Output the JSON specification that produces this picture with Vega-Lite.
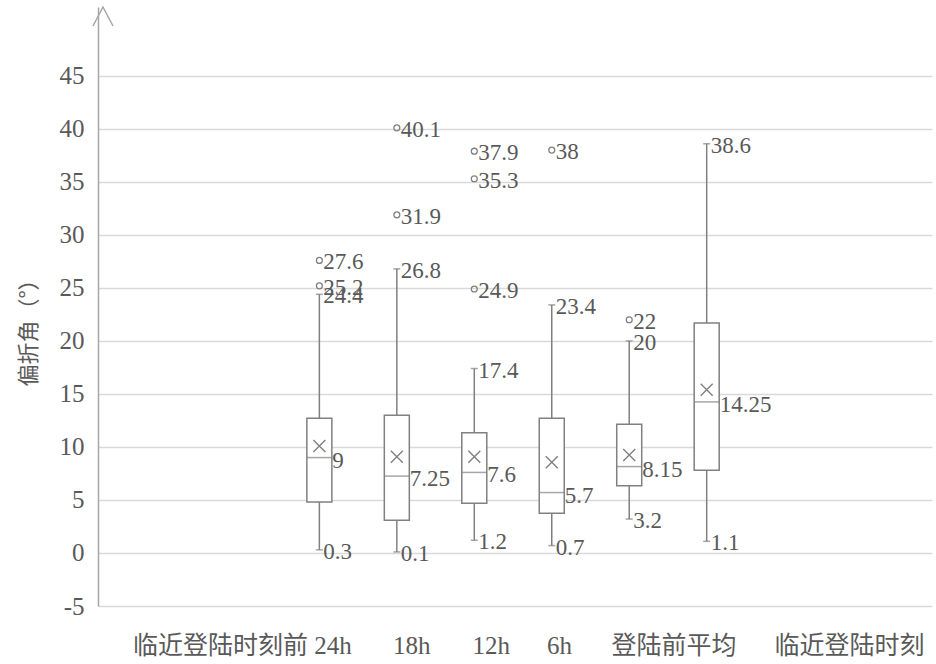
{
  "$schema": "https://vega.github.io/schema/vega-lite/v6.json",
  "width": 834,
  "height": 599,
  "autosize": "none",
  "padding": {"left": 98, "top": 7, "right": 4, "bottom": 58},
  "background": "white",
  "config": {"view": {"stroke": null}, "font": "Liberation Serif"},
  "datasets": {
    "stats": [
      {"pos": 1, "cat": "临近登陆时刻前 24h", "min": 0.3, "q1": 4.8, "median": 9, "mean": 10.1, "q3": 12.7, "max": 24.4},
      {"pos": 2, "cat": "18h", "min": 0.1, "q1": 3.1, "median": 7.25, "mean": 9.07, "q3": 13.0, "max": 26.8},
      {"pos": 3, "cat": "12h", "min": 1.2, "q1": 4.7, "median": 7.6, "mean": 9.07, "q3": 11.35, "max": 17.4},
      {"pos": 4, "cat": "6h", "min": 0.7, "q1": 3.75, "median": 5.7, "mean": 8.55, "q3": 12.7, "max": 23.4},
      {"pos": 5, "cat": "登陆前平均", "min": 3.2, "q1": 6.35, "median": 8.15, "mean": 9.25, "q3": 12.15, "max": 20},
      {"pos": 6, "cat": "临近登陆时刻", "min": 1.1, "q1": 7.8, "median": 14.25, "mean": 15.4, "q3": 21.7, "max": 38.6}
    ],
    "outliers": [
      {"pos": 1, "value": 27.6},
      {"pos": 1, "value": 25.2},
      {"pos": 2, "value": 40.1},
      {"pos": 2, "value": 31.9},
      {"pos": 3, "value": 37.9},
      {"pos": 3, "value": 35.3},
      {"pos": 3, "value": 24.9},
      {"pos": 4, "value": 38},
      {"pos": 5, "value": 22}
    ]
  },
  "layer": [
    {
      "data": {"name": "stats"},
      "mark": {"type": "rule", "stroke": "#808080", "strokeWidth": 1.5},
      "encoding": {
        "x": {
          "field": "pos", "type": "quantitative",
          "scale": {"domain": [-1.793, 8.844], "nice": false, "zero": false},
          "axis": {
            "values": [0, 2.186, 3.213, 4.093, 5.573, 7.837],
            "labelExpr": "datum.value < 1 ? '临近登陆时刻前 24h' : datum.value < 2.7 ? '18h' : datum.value < 3.6 ? '12h' : datum.value < 4.8 ? '6h' : datum.value < 6.5 ? '登陆前平均' : '临近登陆时刻'",
            "grid": false, "ticks": false, "domain": false,
            "labelFont": "Liberation Serif, Noto Sans CJK SC", "labelFontSize": 25,
            "labelColor": "#595959", "labelPadding": 27, "labelAngle": 0, "labelLimit": 0,
            "labelOverlap": false, "labelFlush": false, "labelBound": false, "title": null
          }
        },
        "y": {
          "field": "min", "type": "quantitative", "title": "偏折角（°）",
          "scale": {"domain": [-5, 51.5], "nice": false, "zero": false},
          "axis": {
            "values": [-5, 0, 5, 10, 15, 20, 25, 30, 35, 40, 45],
            "labelExpr": "datum.value < 0 ? '-' + abs(datum.value) : '' + datum.value",
            "grid": true, "gridColor": "#d9d9d9", "gridWidth": 1.3,
            "ticks": false, "domainColor": "#a6a6a6", "domainWidth": 1.5,
            "labelFont": "Liberation Serif", "labelFontSize": 25, "labelColor": "#595959",
            "labelPadding": 14,
            "titleFont": "Noto Sans CJK SC", "titleFontSize": 22, "titleFontWeight": "normal",
            "titleColor": "#595959", "titleX": -70, "titleY": 320, "titleAngle": 270,
            "titleAlign": "center", "titleBaseline": "middle"
          }
        },
        "y2": {"field": "max"}
      }
    },
    {
      "data": {"name": "stats"},
      "mark": {"type": "tick", "orient": "horizontal", "size": 7, "thickness": 1.5, "color": "#808080"},
      "encoding": {
        "x": {"field": "pos", "type": "quantitative", "scale": {"domain": [-1.793, 8.844], "nice": false, "zero": false}},
        "y": {"field": "min", "type": "quantitative", "title": "偏折角（°）", "scale": {"domain": [-5, 51.5], "nice": false, "zero": false}}
      }
    },
    {
      "data": {"name": "stats"},
      "mark": {"type": "tick", "orient": "horizontal", "size": 7, "thickness": 1.5, "color": "#808080"},
      "encoding": {
        "x": {"field": "pos", "type": "quantitative", "scale": {"domain": [-1.793, 8.844], "nice": false, "zero": false}},
        "y": {"field": "max", "type": "quantitative", "title": "偏折角（°）", "scale": {"domain": [-5, 51.5], "nice": false, "zero": false}}
      }
    },
    {
      "data": {"name": "stats"},
      "mark": {"type": "bar", "orient": "vertical", "size": 25, "fill": "white", "stroke": "#808080", "strokeWidth": 1.5},
      "encoding": {
        "x": {"field": "pos", "type": "quantitative", "scale": {"domain": [-1.793, 8.844], "nice": false, "zero": false}},
        "y": {"field": "q1", "type": "quantitative", "title": "偏折角（°）", "scale": {"domain": [-5, 51.5], "nice": false, "zero": false}},
        "y2": {"field": "q3"}
      }
    },
    {
      "data": {"name": "stats"},
      "mark": {"type": "tick", "orient": "horizontal", "size": 25, "thickness": 1.5, "color": "#808080"},
      "encoding": {
        "x": {"field": "pos", "type": "quantitative", "scale": {"domain": [-1.793, 8.844], "nice": false, "zero": false}},
        "y": {"field": "median", "type": "quantitative", "title": "偏折角（°）", "scale": {"domain": [-5, 51.5], "nice": false, "zero": false}}
      }
    },
    {
      "data": {"name": "stats"},
      "mark": {"type": "point", "shape": "M-1,-1L1,1M-1,1L1,-1", "filled": false, "size": 144, "stroke": "#808080", "strokeWidth": 1.4, "opacity": 1},
      "encoding": {
        "x": {"field": "pos", "type": "quantitative", "scale": {"domain": [-1.793, 8.844], "nice": false, "zero": false}},
        "y": {"field": "mean", "type": "quantitative", "title": "偏折角（°）", "scale": {"domain": [-5, 51.5], "nice": false, "zero": false}}
      }
    },
    {
      "data": {"name": "outliers"},
      "mark": {"type": "point", "shape": "circle", "filled": false, "size": 35, "stroke": "#808080", "strokeWidth": 1.3, "opacity": 1},
      "encoding": {
        "x": {"field": "pos", "type": "quantitative", "scale": {"domain": [-1.793, 8.844], "nice": false, "zero": false}},
        "y": {"field": "value", "type": "quantitative", "title": "偏折角（°）", "scale": {"domain": [-5, 51.5], "nice": false, "zero": false}}
      }
    },
    {
      "data": {"name": "outliers"},
      "mark": {"type": "text", "align": "left", "baseline": "middle", "dx": 4, "dy": 2, "fontSize": 23, "font": "Liberation Serif", "color": "#595959"},
      "encoding": {
        "x": {"field": "pos", "type": "quantitative", "scale": {"domain": [-1.793, 8.844], "nice": false, "zero": false}},
        "y": {"field": "value", "type": "quantitative", "title": "偏折角（°）", "scale": {"domain": [-5, 51.5], "nice": false, "zero": false}},
        "text": {"field": "value", "type": "nominal"}
      }
    },
    {
      "data": {"name": "stats"},
      "mark": {"type": "text", "align": "left", "baseline": "middle", "dx": 4, "dy": 2, "fontSize": 23, "font": "Liberation Serif", "color": "#595959"},
      "encoding": {
        "x": {"field": "pos", "type": "quantitative", "scale": {"domain": [-1.793, 8.844], "nice": false, "zero": false}},
        "y": {"field": "min", "type": "quantitative", "title": "偏折角（°）", "scale": {"domain": [-5, 51.5], "nice": false, "zero": false}},
        "text": {"field": "min", "type": "nominal"}
      }
    },
    {
      "data": {"name": "stats"},
      "mark": {"type": "text", "align": "left", "baseline": "middle", "dx": 4, "dy": 2, "fontSize": 23, "font": "Liberation Serif", "color": "#595959"},
      "encoding": {
        "x": {"field": "pos", "type": "quantitative", "scale": {"domain": [-1.793, 8.844], "nice": false, "zero": false}},
        "y": {"field": "max", "type": "quantitative", "title": "偏折角（°）", "scale": {"domain": [-5, 51.5], "nice": false, "zero": false}},
        "text": {"field": "max", "type": "nominal"}
      }
    },
    {
      "data": {"name": "stats"},
      "mark": {"type": "text", "align": "left", "baseline": "middle", "dx": 13, "dy": 3, "fontSize": 23, "font": "Liberation Serif", "color": "#595959"},
      "encoding": {
        "x": {"field": "pos", "type": "quantitative", "scale": {"domain": [-1.793, 8.844], "nice": false, "zero": false}},
        "y": {"field": "median", "type": "quantitative", "title": "偏折角（°）", "scale": {"domain": [-5, 51.5], "nice": false, "zero": false}},
        "text": {"field": "median", "type": "nominal"}
      }
    },
    {
      "data": {"values": [{}]},
      "mark": {"type": "point", "shape": "M-1,1.9L0,0L1,1.9", "filled": false, "size": 400, "stroke": "#a6a6a6", "strokeWidth": 1.5, "opacity": 1},
      "encoding": {
        "x": {"datum": -1.793, "type": "quantitative", "scale": {"domain": [-1.793, 8.844], "nice": false, "zero": false}},
        "y": {"datum": 51.5, "type": "quantitative", "title": "偏折角（°）", "scale": {"domain": [-5, 51.5], "nice": false, "zero": false}}
      }
    }
  ]
}
